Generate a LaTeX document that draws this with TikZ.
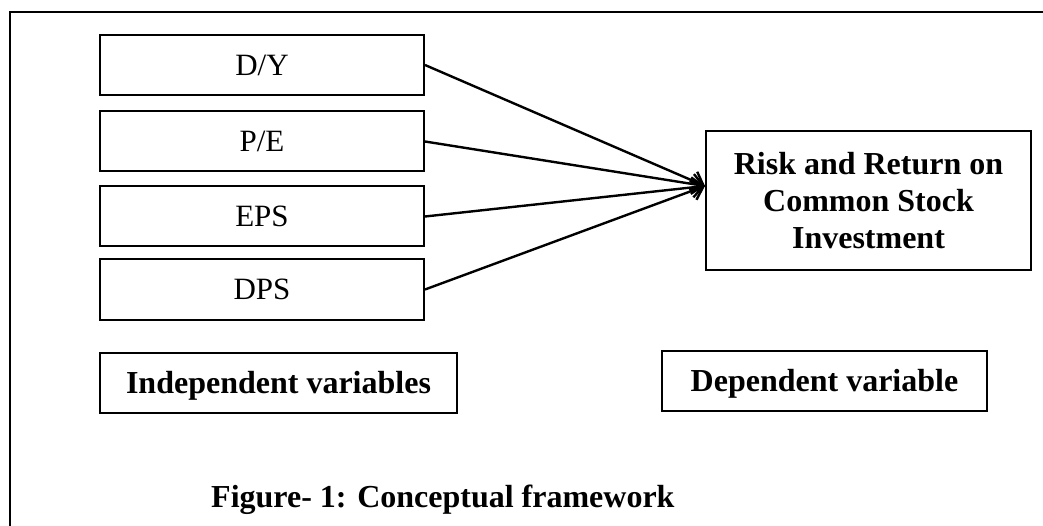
\documentclass[tikz,border=0pt]{standalone}
\usepackage{fontspec}
\setmainfont{Liberation Serif}
\usetikzlibrary{arrows.meta}
\begin{document}
\begin{tikzpicture}[x=1pt,y=1pt,
  varbox/.style={draw, line width=2pt, inner sep=0pt, minimum width=324pt, minimum height=60pt,
    font=\fontsize{31}{36}\selectfont, text height=20.5pt, text depth=0pt},
  labelbox/.style={draw, line width=2pt, inner sep=0pt, minimum height=60pt,
    font=\bfseries\fontsize{32}{37}\selectfont, text height=21pt, text depth=0pt},
  bigbox/.style={draw, line width=2pt, inner sep=0pt, minimum width=325pt, minimum height=139pt,
    align=center, font=\bfseries\fontsize{32}{37.3}\selectfont},
  link/.style={line width=2.4pt, -{Straight Barb[length=11pt,width=20pt]}},
  frameline/.style={line width=2pt},
  titletext/.style={inner sep=0pt, font=\bfseries\fontsize{32}{37}\selectfont}]
\useasboundingbox (0,0) rectangle (1043,-526);
\draw[frameline] (1043,-12) -- (10,-12) -- (10,-526);
\node[varbox] (dy) at (262,-65) {D/Y};
\node[varbox] (pe) at (262,-141.5) {P/E};
\node[varbox] (eps) at (262,-216.5) {EPS};
\node[varbox] (dps) at (262,-289.5) {DPS};
\node[bigbox] (risk) at (868.5,-200.5) {Risk and Return on\\Common Stock\\Investment};
\node[labelbox, minimum width=357pt] (indep) at (278.5,-383) {Independent variables};
\node[labelbox, minimum width=325pt] (dep) at (824.5,-381) {Dependent variable};
\node[titletext, anchor=base west] (title) at (211,-507) {Figure- 1: Conceptual framework};
\coordinate (tip) at ([yshift=14.5pt]risk.west);
\draw[link] (dy.east) -- (tip);
\draw[link] (pe.east) -- (tip);
\draw[link] (eps.east) -- (tip);
\draw[link] (dps.east) -- (tip);
\end{tikzpicture}
\end{document}
